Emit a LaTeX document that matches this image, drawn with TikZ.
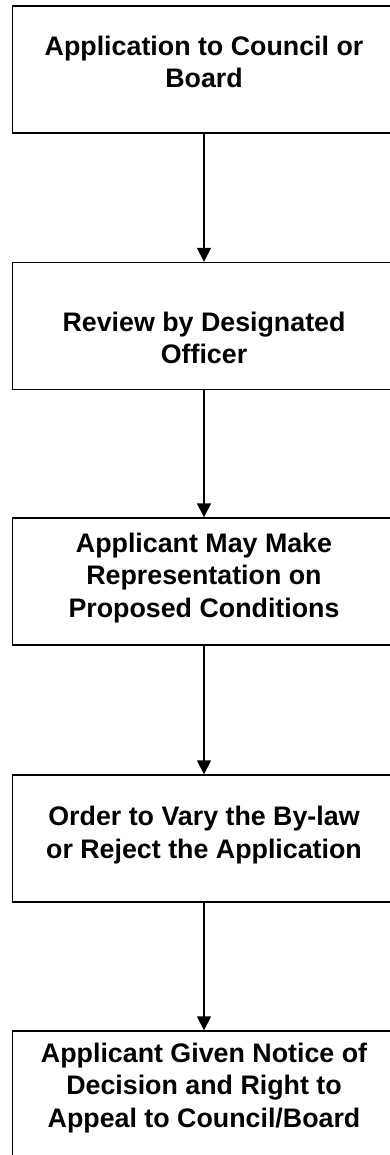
\documentclass[tikz,border=0pt]{standalone}
\usepackage{fontspec}
\setmainfont{Liberation Sans}
\usetikzlibrary{arrows.meta}
\begin{document}
\begin{tikzpicture}[x=0.75pt,y=-0.75pt,
  stagebox/.style={draw=black, line width=1pt, rectangle, minimum width=287.25pt, minimum height=95.25pt, inner sep=0pt},
  stagetext/.style={align=center, inner sep=0pt, font=\fontsize{20.1}{24.6}\selectfont\bfseries},
  flow/.style={line width=1pt, -{Triangle[length=10.5pt,width=10.5pt]}}]
\useasboundingbox (0,0) rectangle (389,1155);
% boxes of the procedure
\node[stagebox] (b1) at (204,69.5) {};
\node[stagebox] (b2) at (204,326) {};
\node[stagebox] (b3) at (204,581.5) {};
\node[stagebox] (b4) at (204,838.5) {};
\node[stagebox] (b5) at (204,1094.5) {};
% labels
\node[stagetext] (t1) at (204,62) {Application to Council or\\Board};
\node[stagetext] (t2) at (204,338) {Review by Designated\\Officer};
\node[stagetext] (t3) at (204,578) {Applicant May Make\\Representation on\\Proposed Conditions};
\node[stagetext] (t4) at (204,835) {Order to Vary the By-law\\or Reject the Application};
\node[stagetext] (t5) at (204,1088) {Applicant Given Notice of\\Decision and Right to\\Appeal to Council/Board};
% connectors
\draw[flow] (b1) -- (b2);
\draw[flow] (b2) -- (b3);
\draw[flow] (b3) -- (b4);
\draw[flow] (b4) -- (b5);
\end{tikzpicture}
\end{document}
